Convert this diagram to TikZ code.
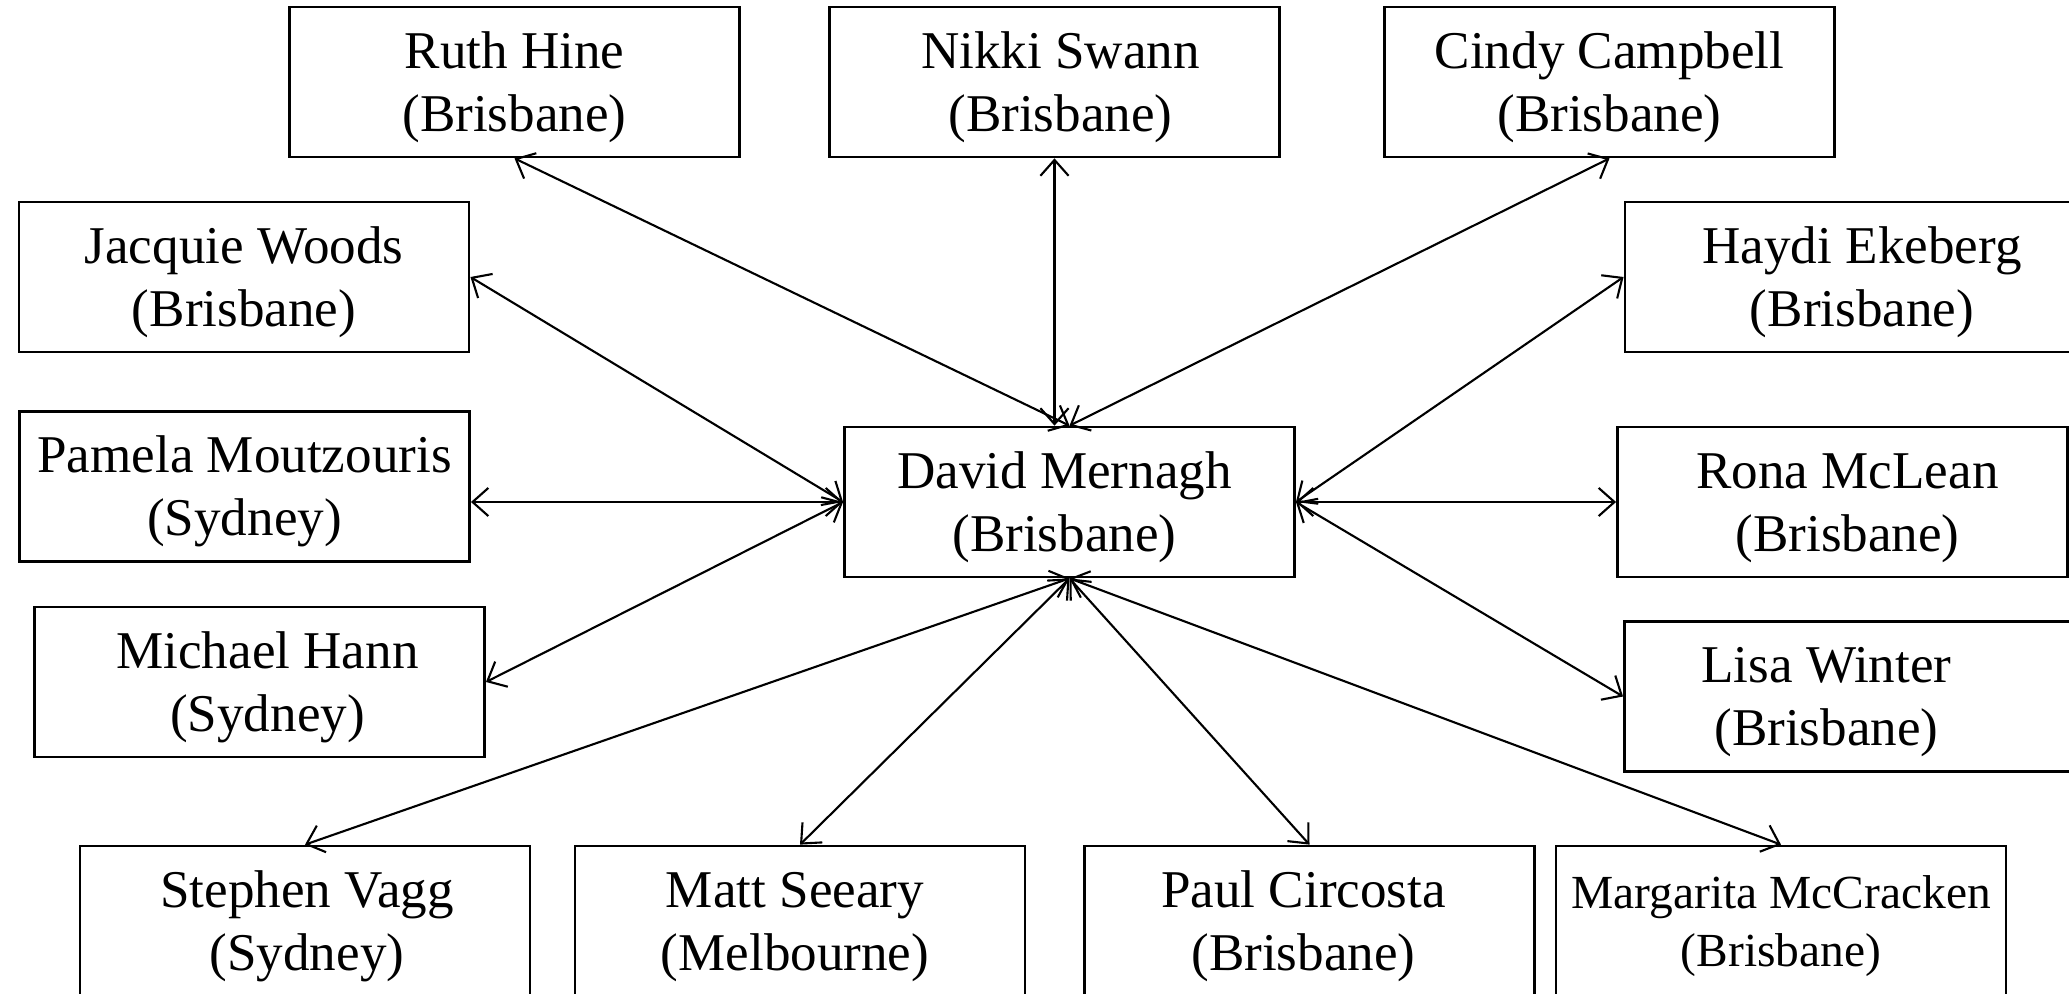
\documentclass[tikz,border=0pt]{standalone}
\usepackage{fontspec}
\setmainfont{Liberation Serif}
\usetikzlibrary{arrows.meta}
\newcommand{\twoline}[2]{\raisebox{-0.05cm}[\height][\depth]{\begin{tabular}{@{}c@{}}#1\\#2\end{tabular}}}
\newcommand{\padx}[1]{\rule{#1}{0pt}}
\tikzset{
  person/.style={draw, line width=0.75pt, minimum width=4.5cm, minimum height=1.5cm, inner sep=0pt,
    font=\fontsize{15.1pt}{18pt}\selectfont},
  link/.style={line width=0.6pt, {Straight Barb[length=4.5pt,width=8pt]}-{Straight Barb[length=4.5pt,width=8pt]}}
}
\begin{document}
\begin{tikzpicture}[x=0.01cm,y=-0.01cm]
\useasboundingbox (0,0) rectangle (2069,994);
\node[person] (ruth) at (514.5,82) {\twoline{Ruth Hine}{(Brisbane)}};
\node[person] (nikki) at (1054.5,82) {\padx{0.12cm}\twoline{Nikki Swann}{(Brisbane)}};
\node[person] (cindy) at (1609.5,82) {\twoline{Cindy Campbell}{(Brisbane)}};
\node[person] (jacquie) at (244,277) {\twoline{Jacquie Woods}{(Brisbane)}};
\node[person] (haydi) at (1850,277) {\padx{0.24cm}\twoline{Haydi Ekeberg}{(Brisbane)}};
\node[person] (pamela) at (244.5,486.5) {\twoline{Pamela Moutzouris}{(Sydney)}};
\node[person] (david) at (1069.5,502) {\twoline{David Mernagh}{(Brisbane)}\padx{0.1cm}};
\node[person] (rona) at (1842.5,502) {\padx{0.1cm}\twoline{Rona McLean}{(Brisbane)}};
\node[person] (michael) at (259.5,682) {\padx{0.16cm}\twoline{Michael Hann}{(Sydney)}};
\node[person] (lisa) at (1849.5,696.5) {\twoline{Lisa Winter}{(Brisbane)}\padx{0.46cm}};
\node[person] (stephen) at (305,921) {\padx{0.04cm}\twoline{Stephen Vagg}{(Sydney)}};
\node[person] (matt) at (800,921) {\twoline{Matt Seeary}{(Melbourne)}\padx{0.1cm}};
\node[person] (paul) at (1309.5,921) {\twoline{Paul Circosta}{(Brisbane)}\padx{0.12cm}};
\node[person, font=\fontsize{13.5pt}{16.5pt}\selectfont] (marg) at (1781,921) {\twoline{Margarita McCracken}{(Brisbane)}};

\draw[link] (ruth.south) -- (david.north);
\draw[link] (nikki.south) -- (nikki.south |- david.north);
\draw[link] (cindy.south) -- (david.north);
\draw[link] (jacquie.east) -- (david.west);
\draw[link] (pamela.east |- david.west) -- (david.west);
\draw[link] (michael.east) -- (david.west);
\draw[link] (haydi.west) -- (david.east);
\draw[link] (david.east) -- (rona.west);
\draw[link] (david.east) -- (lisa.west);
\draw[link] (stephen.north) -- (david.south);
\draw[link] (matt.north) -- (david.south);
\draw[link] (paul.north) -- (david.south);
\draw[link] (marg.north) -- (david.south);
\end{tikzpicture}
\end{document}
